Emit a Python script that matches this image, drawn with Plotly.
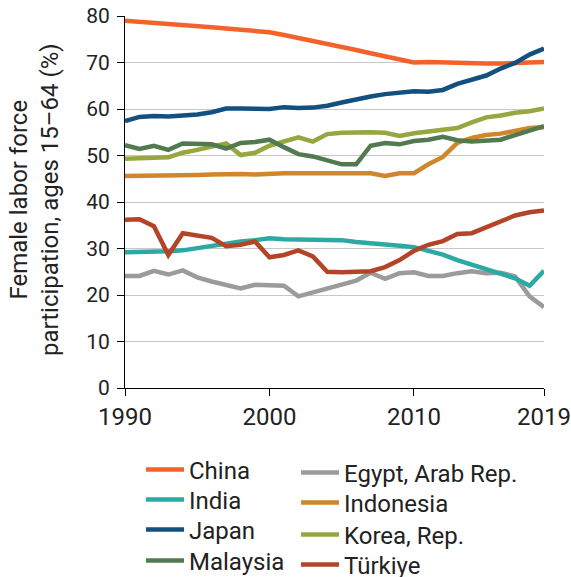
import plotly.graph_objects as go

years = list(range(1990, 2020))

china = [79.0, 78.8, 78.6, 78.3, 78.1, 77.8, 77.6, 77.3, 77.0, 76.8,
         76.5, 75.9, 75.3, 74.6, 74.0, 73.3, 72.7, 72.0, 71.4, 70.7,
         70.0, 70.1, 70.0, 69.8, 69.7, 69.8, 69.8, 69.9, 70.0, 70.1]
egypt = [24.1, 24.1, 25.2, 24.4, 25.3, 23.8, 22.9, 22.2, 21.4, 22.2,
         22.1, 22.0, 19.7, 20.5, 21.3, 22.2, 23.1, 24.8, 23.5, 24.7,
         24.9, 24.1, 24.1, 24.7, 25.1, 24.7, 24.8, 24.0, 19.7, 17.4]
india = [29.2, 29.2, 29.3, 29.4, 29.6, 30.1, 30.5, 31.1, 31.5, 31.8,
         32.2, 32.0, 32.0, 31.9, 31.8, 31.8, 31.4, 31.2, 30.9, 30.6,
         30.3, 29.5, 28.7, 27.5, 26.5, 25.6, 24.7, 23.6, 22.0, 25.2]
indonesia = [45.6, 45.6, 45.6, 45.7, 45.7, 45.8, 45.9, 46.0, 46.0, 45.9,
             46.1, 46.2, 46.2, 46.2, 46.2, 46.2, 46.2, 46.2, 45.6, 46.2,
             46.2, 48.1, 49.7, 52.7, 53.8, 54.4, 54.7, 55.3, 55.9, 56.1]
japan = [57.4, 58.3, 58.5, 58.4, 58.6, 58.8, 59.3, 60.1, 60.1, 60.0,
         60.0, 60.4, 60.2, 60.3, 60.7, 61.4, 62.1, 62.7, 63.2, 63.6,
         63.8, 63.7, 64.1, 65.4, 66.4, 67.2, 68.7, 69.9, 71.7, 73.0]
korea = [49.3, 49.5, 49.5, 49.6, 50.6, 51.2, 51.8, 52.6, 50.1, 50.6,
         52.1, 53.1, 53.9, 53.0, 54.6, 54.9, 55.0, 55.0, 54.9, 54.2,
         54.8, 55.2, 55.4, 55.9, 57.1, 58.2, 58.6, 59.2, 59.5, 60.1]
malaysia = [52.2, 51.4, 52.1, 51.2, 52.6, 52.6, 52.4, 51.5, 52.7, 52.9,
            53.4, 51.8, 50.3, 49.8, 49.0, 48.1, 48.1, 52.1, 52.7, 52.4,
            53.1, 53.4, 54.0, 53.3, 53.0, 53.1, 53.4, 54.4, 55.4, 56.3]
turkiye = [36.2, 36.3, 34.8, 28.6, 33.3, 32.8, 32.3, 30.5, 30.8, 31.5,
           28.1, 28.6, 29.6, 28.3, 25.0, 24.9, 24.9, 25.1, 26.0, 27.5,
           29.5, 30.8, 31.6, 33.1, 33.3, 34.5, 35.8, 37.1, 37.8, 38.2]

countries = ["China", "Egypt, Arab Rep.", "India", "Indonesia",
             "Japan", "Korea, Rep.", "Malaysia", "Türkiye"]
values = [china, egypt, india, indonesia, japan, korea, malaysia, turkiye]
colors = ["#F4622B", "#9B9B9B", "#2BAAA3", "#D0862D",
          "#12507F", "#97A740", "#517A50", "#B44428"]

x_ticks = [1990, 2000, 2010, 2019]
y_ticks = [0, 10, 20, 30, 40, 50, 60, 70, 80]

FONT = "Roboto, Arial, sans-serif"
TXT = "#222222"

# figure size and plot area margins (pixels)
W, H = 571, 577
L, R, T, B = 125, 27, 16, 189
PW, PH = W - L - R, H - T - B

def px_x(p):
    return (p - L) / PW

def px_y(p):
    return (H - B - p) / PH

# legend entry placement (two columns of four rows), figure pixels
legend_pos = {
    "China": (141, 470), "India": (141, 500), "Japan": (141, 530), "Malaysia": (141, 561),
    "Egypt, Arab Rep.": (296, 473), "Indonesia": (296, 503),
    "Korea, Rep.": (296, 535), "Türkiye": (296, 565),
}

fig = go.Figure()
layout_legends = {}
for i, (name, vals, color) in enumerate(zip(countries, values, colors)):
    lid = "legend" if i == 0 else f"legend{i + 1}"
    fig.add_trace(go.Scatter(
        x=years, y=vals, name=name, mode="lines",
        line=dict(color=color, width=4.5),
        legend=lid,
    ))
    lx, ly = legend_pos[name]
    layout_legends[lid] = dict(
        x=px_x(lx), y=px_y(ly), xanchor="left", yanchor="middle",
        orientation="v", font=dict(size=24, family=FONT, color=TXT),
        itemwidth=38, bgcolor="rgba(0,0,0,0)",
    )

fig.update_layout(
    width=W, height=H,
    margin=dict(l=L, r=R, t=T, b=B, autoexpand=False),
    paper_bgcolor="white", plot_bgcolor="white",
    font=dict(family=FONT, color=TXT),
    showlegend=True,
    xaxis=dict(
        range=[1990, 2019], tickmode="array", tickvals=x_ticks,
        ticktext=[str(v) for v in x_ticks],
        showgrid=False, zeroline=False,
        showline=True, linecolor="black", linewidth=1,
        ticks="outside", ticklen=7, tickcolor="black", tickwidth=1,
        ticklabeloverflow="allow",
        tickfont=dict(size=24, family=FONT, color=TXT),
    ),
    yaxis=dict(
        range=[0, 80], tickmode="array", tickvals=y_ticks,
        showgrid=True, gridcolor="#c8c8c8", gridwidth=1, zeroline=False,
        showline=True, linecolor="black", linewidth=1,
        ticks="outside", ticklen=7, tickcolor="black", tickwidth=1,
        ticklabelstandoff=3, ticklabeloverflow="allow",
        tickfont=dict(size=21, family=FONT, color=TXT),
    ),
    annotations=[dict(
        text="Female labor force<br>participation, ages 15–64 (%)",
        xref="paper", yref="paper",
        x=px_x(34), y=px_y(200), xanchor="center", yanchor="middle",
        textangle=-90, showarrow=False,
        font=dict(size=24, family=FONT, color=TXT),
    )],
    **layout_legends,
)

fig.write_html(
    "out.html",
    config={"displayModeBar": False},
    post_script="document.body.style.margin='0';document.body.style.overflow='hidden';",
)
